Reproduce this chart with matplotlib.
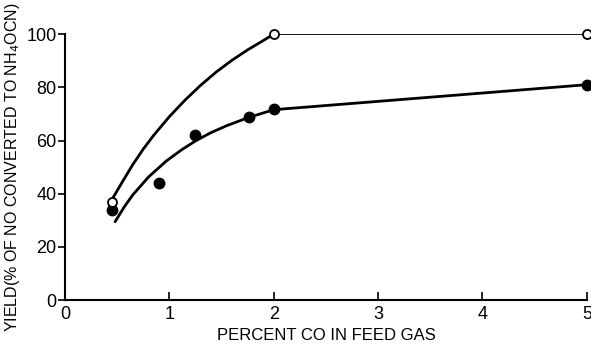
import matplotlib
matplotlib.use("Agg")
import matplotlib.pyplot as plt

# measured points
open_x = [0.45, 2.0, 5.0]
open_y = [37, 100, 100]
filled_x = [0.45, 0.90, 1.25, 1.76, 2.0, 5.0]
filled_y = [34, 44, 62, 69, 72, 81]

# hand-drawn smooth curves through the data
upper_x = [0.46, 0.55, 0.65, 0.75, 0.85, 1.0, 1.15, 1.3, 1.45, 1.6, 1.75, 1.9, 2.0, 5.0]
upper_y = [38.5, 44.5, 51.0, 56.8, 62.0, 69.0, 75.2, 80.8, 85.8, 90.2, 94.1, 97.6, 100, 100]
lower_x = [0.48, 0.57, 0.65, 0.80, 0.97, 1.12, 1.26, 1.40, 1.55, 1.76, 2.0, 5.0]
lower_y = [29.5, 35.2, 39.6, 46.3, 52.3, 56.6, 60.1, 63.0, 65.6, 68.7, 71.6, 81]

plt.rcParams["font.family"] = ["Liberation Sans", "DejaVu Sans"]

fig = plt.figure(figsize=(5.91, 3.45), dpi=100)
ax = fig.add_axes([0.110, 0.130, 0.883, 0.771])

ax.plot(upper_x[:-1], upper_y[:-1], color="black", lw=2.0, solid_capstyle="round")
ax.plot(upper_x[-2:], upper_y[-2:], color="black", lw=1.3)
ax.plot(lower_x, lower_y, color="black", lw=2.0, solid_capstyle="round")

ax.plot(filled_x, filled_y, "o", ms=7.5, color="black", clip_on=False, zorder=5)
ax.plot(open_x, open_y, "o", ms=6.5, mfc="white", mec="black", mew=1.3,
        clip_on=False, zorder=6)

ax.set_xlim(0, 5)
ax.set_ylim(0, 100)
ax.set_xticks([0, 1, 2, 3, 4, 5])
ax.set_yticks([0, 20, 40, 60, 80, 100])

for s in ("top", "right"):
    ax.spines[s].set_visible(False)
for s in ("left", "bottom"):
    ax.spines[s].set_linewidth(1.5)

ax.tick_params(axis="x", direction="in", length=6, width=1.2, labelsize=13, pad=4)
ax.tick_params(axis="y", direction="out", length=5, width=1.2, labelsize=13, pad=1)

ax.set_xlabel("PERCENT CO IN FEED GAS", fontsize=12, labelpad=4)
ax.set_ylabel("YIELD(% OF NO CONVERTED TO NH$_4$OCN)", fontsize=11.5, labelpad=3)

fig.savefig("out.png", dpi=100)
